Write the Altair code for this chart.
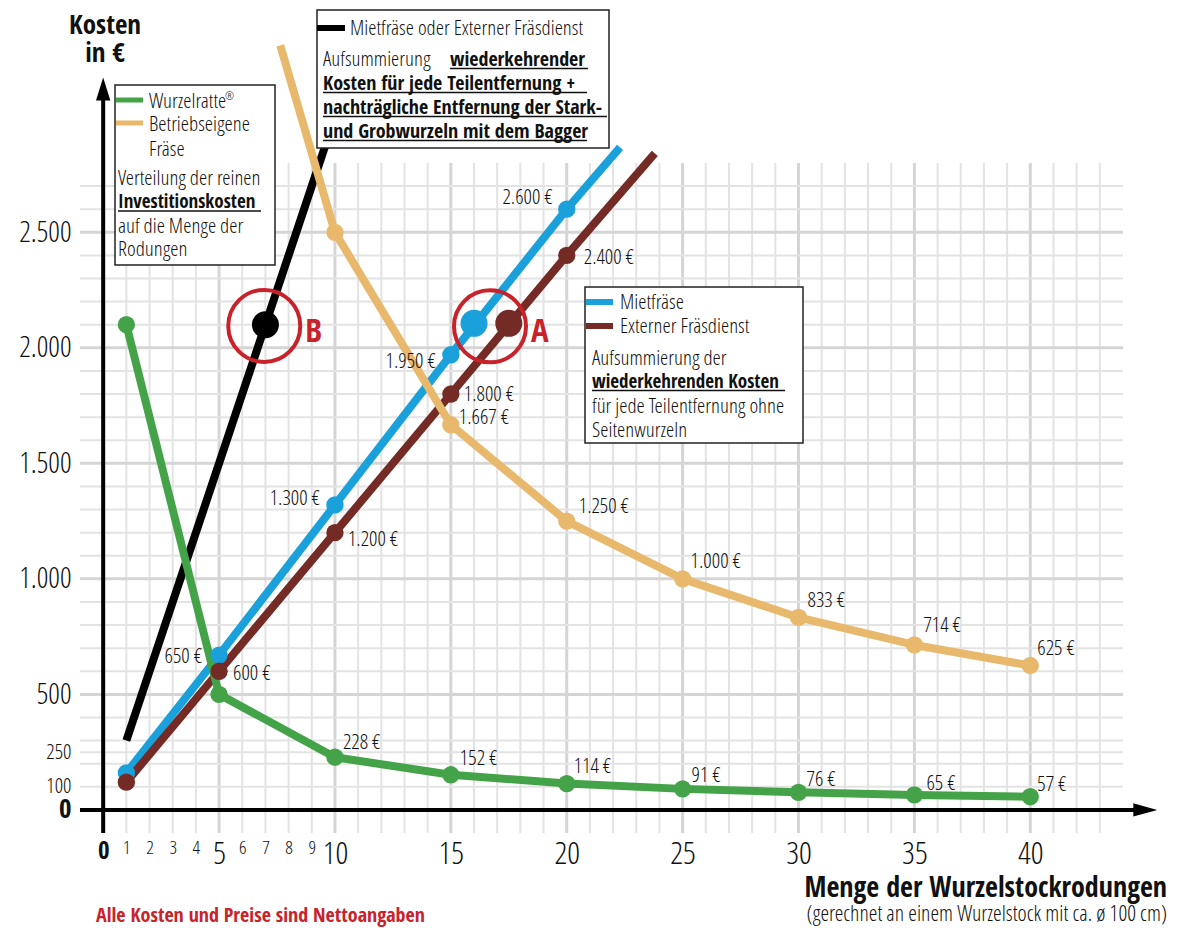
import altair as alt
import pandas as pd

# ------------------------------------------------------------------ data
rodungen = [1, 5, 10, 15, 20, 25, 30, 35, 40]
wurzelratte = [2100, 500, 228, 152, 114, 91, 76, 65, 57]
wurzelratte_labels = ["", "", "228 €", "152 €", "114  €", "91 €", "76  €", "65  €", "57 €"]

fraese_x = [7.64, 10, 15, 20, 25, 30, 35, 40]
fraese_y = [3309, 2500, 1667, 1250, 1000, 833, 714, 625]
fraese_labels = ["", "", "1.667 €", "1.250 €", "1.000 €", "833 €", "714 €", "625 €"]
fraese_marker = [False, True, True, True, True, True, True, True]

miet_x = [1, 5, 10, 15, 20, 22.3]
miet_y = [160, 670, 1320, 1970, 2600, 2868]
miet_labels = ["", "650 €", "1.300 €", "1.950 €", "2.600 €", ""]
miet_marker = [True, True, True, True, True, False]

extern_x = [1, 5, 10, 15, 20, 23.8]
extern_y = [120, 600, 1200, 1800, 2400, 2842]
extern_labels = ["", "600 €", "1.200 €", "1.800 €", "2.400 €", ""]
extern_marker = [True, True, True, True, True, False]

kombi_x = [1, 10]
kombi_y = [300, 3000]

# break-even points A and B
point_a_x = [16.0, 17.5]
point_a_y = [2106, 2106]
point_b_x = [7]
point_b_y = [2100]
ring_x = [16.69, 6.95]
ring_y = [2093, 2095]
ring_names = ["A", "B"]

grid_x = list(range(1, 44))
grid_y = list(range(100, 2800, 100)) + [250]
x_ticks = list(range(0, 11)) + [15, 20, 25, 30, 35, 40]
y_ticks = [0, 100, 250, 500, 1000, 1500, 2000, 2500]

x_axis_span = [-1, 45]
y_axis_span = [-100, 3100]
x_arrow_tip = [45.48, 0]
y_arrow_tip = [0, 3170]

# ------------------------------------------------------------------ style
FONT = "Open Sans Condensed Light, Liberation Sans, sans-serif"
BFONT = "Open Sans Condensed, Liberation Sans, sans-serif"
GREEN = "#44a348"
TAN = "#e8b96c"
BLUE = "#1aa0db"
BROWN = "#742b25"
RED = "#c8222a"
INK = "#111111"

W, H = 1043, 670
OX, OY = 80, 163  # page position of plot origin

XS = alt.Scale(domain=[-1, 44], nice=False, zero=False)
YS = alt.Scale(domain=[-100, 2800], nice=False, zero=False)

FONT_EXPR = {"expr": "datum.value == 0 ? 'Open Sans Condensed, sans-serif' : 'Open Sans Condensed Light, sans-serif'"}

XA = alt.Axis(values=x_ticks, grid=False, domain=False, ticks=False, title=None,
              labelFont=FONT_EXPR, labelColor=INK, labelPadding=5, labelOverlap=False,
              labelFlush=False, labelBound=False, format="d",
              labelFontSize={"expr": "datum.value == 0 ? 25 : (datum.value % 5 == 0 ? 32 : 19)"},
              labelFontWeight={"expr": "datum.value == 0 ? 'bold' : 'normal'"})
YA = alt.Axis(values=y_ticks, grid=False, domain=False, ticks=False, title=None,
              labelFont=FONT_EXPR, labelColor=INK, labelPadding=9, labelOverlap=False,
              labelFlush=False, labelBound=False,
              labelExpr="replace(format(datum.value, ','), ',', '.')",
              labelFontSize={"expr": "datum.value == 0 ? 27 : (datum.value < 500 ? 21 : 29)"},
              labelFontWeight={"expr": "datum.value == 0 ? 'bold' : 'normal'"})


def X(f):
    return alt.X(f"{f}:Q", scale=XS, axis=XA, title=None)


def Y(f):
    return alt.Y(f"{f}:Q", scale=YS, axis=YA, title=None)


one = pd.DataFrame({"k": [0]})


def PX(p):
    return p - OX


def PY(p):
    return p - OY


def txt(s, x, y, size=21, bold=False, color=INK, align="left"):
    return alt.Chart(one).mark_text(
        text=s, align=align, baseline="alphabetic", font=BFONT if bold else FONT, fontSize=size,
        fontWeight="bold" if bold else "normal", color=color
    ).encode(x=alt.value(PX(x)), y=alt.value(PY(y)))


def hline(x1, x2, y, width, color):
    return alt.Chart(one).mark_rule(strokeWidth=width, color=color, strokeCap="butt").encode(
        x=alt.value(PX(x1)), x2=alt.value(PX(x2)), y=alt.value(PY(y)))


def box(x1, y1, x2, y2):
    return alt.Chart(one).mark_rect(fill="white", stroke="#222", strokeWidth=1.5).encode(
        x=alt.value(PX(x1)), x2=alt.value(PX(x2)), y=alt.value(PY(y1)), y2=alt.value(PY(y2)))


layers = []

# ---- grid
gx = pd.DataFrame({"x": grid_x})
gy = pd.DataFrame({"y": grid_y})
layers.append(alt.Chart(gx).mark_rule().encode(
    x=X("x"),
    strokeWidth=alt.condition("datum.x % 5 == 0", alt.value(3), alt.value(2)),
    color=alt.condition("datum.x % 5 == 0", alt.value("#d5d5d5"), alt.value("#e3e3e3"))))
layers.append(alt.Chart(gy).mark_rule().encode(
    y=Y("y"),
    strokeWidth=alt.condition("datum.y % 500 == 0", alt.value(3), alt.value(2)),
    color=alt.condition("datum.y % 500 == 0", alt.value("#d5d5d5"), alt.value("#e3e3e3"))))

# ---- axis lines with arrows
layers.append(alt.Chart(pd.DataFrame({"x": [x_axis_span[0]], "x2": [x_axis_span[1]], "y": [0]}))
              .mark_rule(color="black", strokeWidth=4).encode(x=X("x"), x2="x2:Q", y=Y("y")))
layers.append(alt.Chart(pd.DataFrame({"y": [y_axis_span[0]], "y2": [y_axis_span[1]], "x": [0]}))
              .mark_rule(color="black", strokeWidth=4).encode(y=Y("y"), y2="y2:Q", x=X("x")))
layers.append(alt.Chart(pd.DataFrame({"x": [x_arrow_tip[0]], "y": [x_arrow_tip[1]]}))
              .mark_point(shape="M0,0L-2,-0.55L-2,0.55Z", filled=True, size=576, color="black",
                          opacity=1, strokeWidth=0).encode(x=X("x"), y=Y("y")))
layers.append(alt.Chart(pd.DataFrame({"x": [y_arrow_tip[0]], "y": [y_arrow_tip[1]]}))
              .mark_point(shape="M0,0L-0.625,2L0.625,2Z", filled=True, size=529, color="black",
                          opacity=1, strokeWidth=0).encode(x=X("x"), y=Y("y")))


def sdf(xs, ys, labels=None, markers=None):
    d = pd.DataFrame({"x": xs, "y": ys})
    d["t"] = labels if labels is not None else [""] * len(xs)
    d["m"] = markers if markers is not None else [True] * len(xs)
    return d


kombi = sdf(kombi_x, kombi_y, markers=[False, False])
miet = sdf(miet_x, miet_y, miet_labels, miet_marker)
extern = sdf(extern_x, extern_y, extern_labels, extern_marker)
fraese = sdf(fraese_x, fraese_y, fraese_labels, fraese_marker)
ratte = sdf(rodungen, wurzelratte, wurzelratte_labels)

series = [(kombi, "black"), (miet, BLUE), (extern, BROWN), (fraese, TAN), (ratte, GREEN)]
for d, c in series:
    layers.append(alt.Chart(d).mark_line(color=c, strokeWidth=8, strokeJoin="round")
                  .encode(x=X("x"), y=Y("y"), order="x:Q"))
for d, c in series:
    dm = d[d["m"]]
    if len(dm):
        layers.append(alt.Chart(dm).mark_circle(color=c, size=300, opacity=1)
                      .encode(x=X("x"), y=Y("y")))

# ---- break-even markers
layers.append(alt.Chart(pd.DataFrame({"x": point_a_x, "y": point_a_y, "c": [BLUE, BROWN]}))
              .mark_circle(size=730, opacity=1).encode(x=X("x"), y=Y("y"), color=alt.Color("c:N", scale=None)))
layers.append(alt.Chart(pd.DataFrame({"x": point_b_x, "y": point_b_y}))
              .mark_circle(size=730, opacity=1, color="black").encode(x=X("x"), y=Y("y")))
rings = pd.DataFrame({"x": ring_x, "y": ring_y, "n": ring_names})
layers.append(alt.Chart(rings).mark_point(shape="circle", filled=False, size=5184, stroke=RED,
                                          strokeWidth=4, opacity=1).encode(x=X("x"), y=Y("y")))
layers.append(alt.Chart(rings).mark_text(align="left", baseline="middle", dx=41, dy=6, font=BFONT,
                                         fontSize=33, fontWeight="bold", color=RED)
              .encode(x=X("x"), y=Y("y"), text="n:N"))

# ---- value labels (pixel nudges relative to the points)
NUDGE = {
    "650 €": (-17, 2), "1.300 €": (-15, -6), "1.950 €": (-15, 7), "2.600 €": (-14, -11),
    "600 €": (14, 3), "1.200 €": (13, 7), "1.800 €": (13, 1), "2.400 €": (17, 3),
    "1.667 €": (8, -7), "1.250 €": (12, -14), "1.000 €": (8, -17), "833 €": (9, -16),
    "714 €": (9, -19), "625 €": (7, -17),
    "228 €": (8, -14), "152 €": (9, -16), "114  €": (7, -17), "91 €": (9, -13),
    "76  €": (8, -12), "65  €": (12, -11), "57 €": (7, -12),
}
for d, align in [(miet, "right"), (extern, "left"), (fraese, "left"), (ratte, "left")]:
    for i in range(len(d)):
        t = d["t"].iloc[i]
        if not t:
            continue
        dx, dy = NUDGE[t]
        layers.append(alt.Chart(d.iloc[[i]]).mark_text(
            align=align, baseline="middle", dx=dx, dy=dy, font=FONT, fontSize=21, color=INK)
            .encode(x=X("x"), y=Y("y"), text="t:N"))

# ---- legend / explanation boxes
layers += [
    box(115, 85, 275, 265),
    hline(116, 143, 100, 5, GREEN),
    txt("Wurzelratte", 149, 108),
    txt("®", 225, 100, size=11),
    hline(116, 143, 123, 5, TAN),
    txt("Betriebseigene", 149, 131),
    txt("Fräse", 149, 156),
    txt("Verteilung der reinen", 118, 185),
    txt("Investitionskosten", 118, 208, bold=True, size=19),
    hline(118, 261, 211, 1.5, INK),
    txt("auf die Menge der", 118, 233),
    txt("Rodungen", 118, 256),

    box(317, 10, 609, 148),
    hline(317, 345, 28, 6, "black"),
    txt("Mietfräse oder Externer Fräsdienst", 350, 35),
    txt("Aufsummierung", 323, 66),
    txt("wiederkehrender", 450, 66, bold=True, size=20),
    hline(450, 588, 68.5, 1.5, INK),
    txt("Kosten für jede Teilentfernung +", 323, 90, bold=True, size=20),
    hline(323, 587, 92.5, 1.5, INK),
    txt("nachträgliche Entfernung der Stark-", 323, 114, bold=True, size=20),
    hline(323, 607, 116.5, 1.5, INK),
    txt("und Grobwurzeln mit dem Bagger", 323, 138, bold=True, size=20),
    hline(323, 587, 140.5, 1.5, INK),

    box(585, 287, 803, 443),
    hline(586, 613, 302, 6, BLUE),
    txt("Mietfräse", 620, 309),
    hline(586, 613, 326, 6, BROWN),
    txt("Externer Fräsdienst", 620, 333),
    txt("Aufsummierung der", 592, 365),
    txt("wiederkehrenden Kosten", 592, 388, bold=True, size=19),
    hline(592, 785, 390.5, 1.5, INK),
    txt("für jede Teilentfernung ohne", 592, 413),
    txt("Seitenwurzeln", 592, 437),
]

# ---- titles and notes
layers += [
    txt("Kosten", 105, 34, size=27, bold=True, align="center", color="#111"),
    txt("in €", 105, 62, size=27, bold=True, align="center", color="#111"),
    txt("Menge der Wurzelstockrodungen", 1167, 897, size=28, bold=True, align="right", color="#111"),
    txt("(gerechnet an einem Wurzelstock mit ca. ø 100 cm)", 1167, 921, size=22, align="right"),
    txt("Alle Kosten und Preise sind Nettoangaben", 96, 922, size=20, bold=True, color=RED),
]

chart = alt.layer(*layers).properties(
    width=W, height=H,
    padding={"left": OX - 8, "top": OY - 8, "right": 1161 - (OX - 8) - W, "bottom": 920 - (OY - 8) - H},
    autosize=alt.AutoSizeParams(type="none"),
    background="white",
).configure_view(stroke=None)

chart.save("out.html", embed_options={"renderer": "svg", "actions": False})
